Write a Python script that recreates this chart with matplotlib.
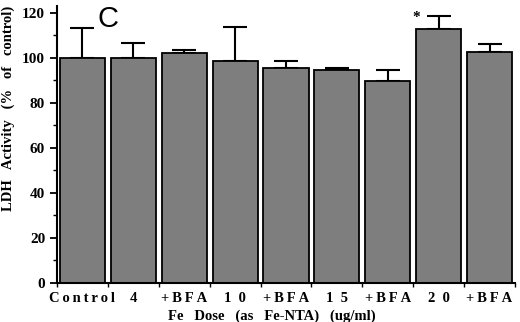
import matplotlib.pyplot as plt
from matplotlib.ticker import MultipleLocator

# data
labels = ["Control", "4", "+BFA", "1  0", "+BFA", "1  5", "+BFA", "2  0", "+BFA"]
values = [100, 100, 102, 98.5, 95.4, 94.5, 89.6, 112.6, 102.4]
errors = [13, 6.5, 1.5, 15, 3, 1, 5, 6, 3.6]
star_bar = 7
xlabel = "Fe   Dose   (as   Fe-NTA)   (ug/ml)"
ylabel = "LDH   Activity   (%   of   control)"

serif = "Liberation Serif"
TS = "\u2009"


def spaced(s):
    # wide letter spacing like the original typesetting
    if " " in s:
        return s
    return TS.join(s)


fig = plt.figure(figsize=(5.2, 3.22), dpi=100)
ax = fig.add_axes([57 / 520, (322 - 282.7) / 322, 458 / 520, 276.7 / 322])

x = list(range(len(values)))
ax.bar(x, values, width=0.885, color="#7e7e7e", edgecolor="black", linewidth=1.3, zorder=2)
ax.errorbar(x, values, yerr=[[0] * len(errors), errors], fmt="none", ecolor="black",
            elinewidth=1.5, capsize=8.3, capthick=1.5, zorder=1)

ax.set_xlim(-0.47, 8.47)
ax.set_ylim(0, 123)
ax.spines["top"].set_visible(False)
ax.spines["right"].set_visible(False)
ax.spines["left"].set_linewidth(1.5)
ax.spines["bottom"].set_linewidth(1.5)

ax.yaxis.set_major_locator(MultipleLocator(20))
ax.yaxis.set_minor_locator(MultipleLocator(10))
ax.tick_params(axis="y", which="major", length=5, width=1.3, direction="out")
ax.tick_params(axis="y", which="minor", length=3, width=1.0, direction="out")
for t in ax.get_yticklabels():
    t.set_fontfamily(serif)
    t.set_fontweight("bold")
    t.set_fontsize(11)

ax.set_xticks([i + 0.5 for i in range(-1, len(values))], minor=True)
ax.set_xticks([])
ax.tick_params(axis="x", which="minor", length=3, width=1.0, direction="out")

for i, lab in enumerate(labels):
    ax.text(i, -4, spaced(lab), ha="center", va="top", fontfamily=serif,
            fontweight="bold", fontsize=10.5)
ax.text(3.72, -12, xlabel, ha="center", va="top", fontfamily=serif,
        fontweight="bold", fontsize=10.5)

ax.set_ylabel(ylabel, fontfamily=serif, fontweight="bold", fontsize=10.5)
ax.yaxis.set_label_coords(-0.092, 0.63)

ax.text(0.3, 117, "C", fontfamily="Liberation Sans", fontsize=21, ha="left", va="center")
ax.text(star_bar - 0.45, 118, "*", fontfamily=serif, fontweight="bold", fontsize=11,
        ha="center", va="center")

fig.savefig("out.png", dpi=100)
